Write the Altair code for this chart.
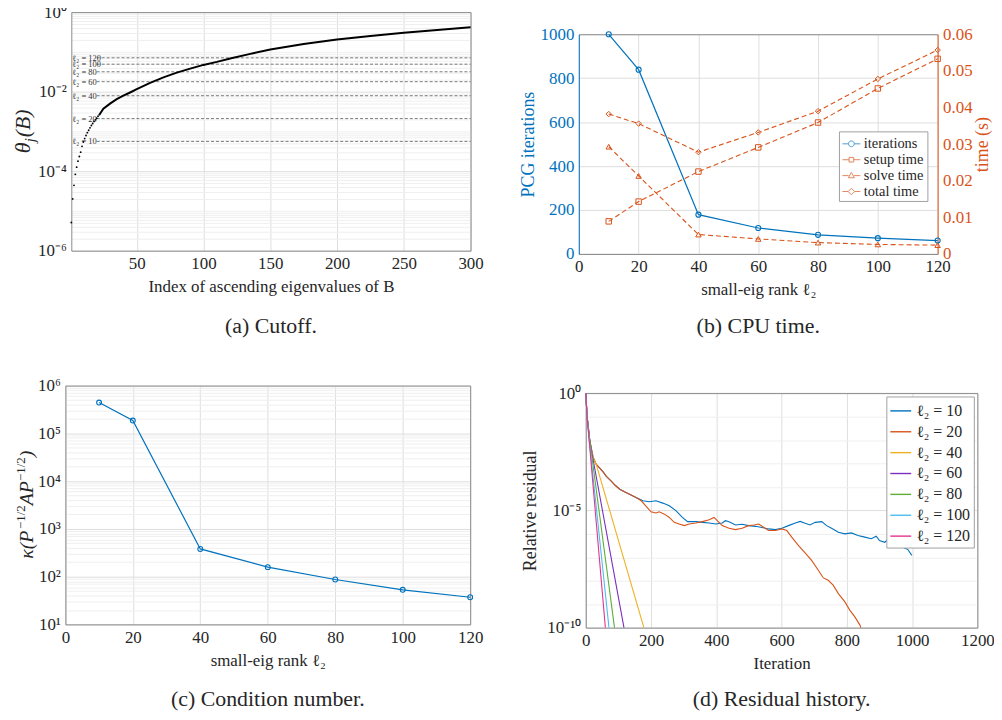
import altair as alt
import pandas as pd

# ======================= data =======================
# (a) Cutoff: ascending eigenvalues theta_j(B)
eig_dot_index = [1, 2, 3, 4, 5, 6, 7, 8, 9, 10, 11, 12, 13, 14, 15, 16, 17, 18, 19, 20, 21, 22]
eig_dot_value = [5.1e-6, 2.0e-5, 4.4e-5, 8.3e-5, 1.26e-4, 1.78e-4, 2.34e-4, 3.0e-4, 4.2e-4, 5.4e-4,
                 6.6e-4, 7.9e-4, 9.3e-4, 1.07e-3, 1.23e-3, 1.41e-3, 1.58e-3, 1.78e-3, 1.95e-3, 2.14e-3,
                 2.40e-3, 2.63e-3]
eig_line_index = [22, 25, 30, 35, 40, 45, 50, 60, 70, 80, 90, 100, 110, 120, 135, 150, 175, 200, 225,
                  250, 275, 300]
eig_line_value = [2.63e-3, 3.7e-3, 5.0e-3, 6.5e-3, 7.9e-3, 9.5e-3, 1.15e-2, 1.66e-2, 2.29e-2, 3.0e-2,
                  3.8e-2, 4.7e-2, 5.6e-2, 6.8e-2, 8.9e-2, 0.115, 0.158, 0.204, 0.251, 0.302, 0.355, 0.417]
cutoff_rank = [10, 20, 40, 60, 80, 100, 120]
cutoff_value = [5.6e-4, 2.1e-3, 7.9e-3, 1.78e-2, 3.16e-2, 4.9e-2, 7.1e-2]

# (b) CPU time
rank = [10, 20, 40, 60, 80, 100, 120]
pcg_iterations = [1000, 839, 179, 118, 87, 72, 61]
setup_time = [0.0089, 0.0143, 0.0225, 0.0291, 0.0359, 0.0452, 0.0533]
solve_time = [0.0293, 0.0213, 0.0053, 0.0041, 0.0031, 0.0026, 0.0024]
total_time = [0.0382, 0.0356, 0.0278, 0.0332, 0.0390, 0.0478, 0.0557]

# (c) Condition number
cond_number = [4.4e5, 1.85e5, 380, 158, 87, 53, 37]

# (d) Residual history: iteration and log10(relative residual)
res10_iter = [0, 4, 12, 22, 32, 43, 53, 63, 78, 90, 104, 120, 134, 154, 175, 195, 215, 236, 256, 276,
              296, 312, 337, 357, 378, 398, 418, 428, 439, 459, 479, 499, 520, 540, 560, 581, 601, 621,
              642, 657, 672, 687, 703, 723, 738, 753, 774, 794, 814, 834, 855, 875, 890, 900, 916, 926,
              936, 951, 961, 972, 987, 999]
res10_exp = [0, -1.0, -2.0, -2.72, -3.04, -3.2, -3.36, -3.55, -3.75, -3.93, -4.1, -4.22, -4.31, -4.45,
             -4.59, -4.63, -4.59, -4.69, -4.80, -5.01, -5.30, -5.48, -5.48, -5.51, -5.54, -5.58, -5.54,
             -5.44, -5.48, -5.62, -5.59, -5.65, -5.68, -5.73, -5.79, -5.82, -5.76, -5.65, -5.54, -5.47,
             -5.55, -5.62, -5.51, -5.48, -5.65, -5.76, -5.93, -6.0, -5.96, -6.07, -6.14, -6.21, -6.1,
             -6.29, -6.36, -6.24, -6.5, -6.43, -6.36, -6.57, -6.67, -6.92]
res20_iter = [0, 4, 12, 22, 32, 43, 53, 63, 78, 90, 104, 120, 134, 154, 170, 185, 200, 215, 225, 241,
              256, 271, 286, 302, 317, 337, 357, 378, 393, 403, 418, 439, 459, 479, 499, 515, 530, 545,
              560, 581, 601, 616, 631, 652, 672, 692, 713, 728, 743, 758, 774, 794, 809, 824, 840, 843]
res20_exp = [0, -1.0, -2.0, -2.72, -3.04, -3.2, -3.36, -3.55, -3.75, -3.93, -4.1, -4.22, -4.31, -4.45,
             -4.59, -4.83, -5.06, -5.11, -5.06, -5.16, -5.30, -5.51, -5.58, -5.65, -5.58, -5.54, -5.48,
             -5.40, -5.30, -5.44, -5.65, -5.76, -5.82, -5.76, -5.65, -5.62, -5.58, -5.72, -5.86, -5.86,
             -5.79, -5.86, -6.14, -6.5, -6.81, -7.13, -7.56, -7.88, -7.98, -8.19, -8.55, -8.9, -9.25,
             -9.53, -9.89, -10.0]
res40_iter = [0, 4, 12, 22, 32, 178]
res40_exp = [0, -1.0, -2.0, -2.72, -3.04, -10.0]
res60_iter = [0, 4, 12, 20, 117]
res60_exp = [0, -1.0, -2.0, -2.65, -10.0]
res80_iter = [0, 4, 12, 88]
res80_exp = [0, -1.0, -2.0, -10.0]
res100_iter = [0, 4, 10, 71]
res100_exp = [0, -1.0, -1.95, -10.0]
res120_iter = [0, 4, 60]
res120_exp = [0, -1.0, -10.0]
res_labels = ["ℓ₂ = 10", "ℓ₂ = 20", "ℓ₂ = 40", "ℓ₂ = 60", "ℓ₂ = 80", "ℓ₂ = 100", "ℓ₂ = 120"]
res_colors = ["#0072BD", "#D95319", "#EDB120", "#7B2FBE", "#5DAE3A", "#4DBEEE", "#E3348E"]

# ======================= style / layout =======================
SERIF = "Liberation Serif"
TXT = "#262626"
GRID = "#dedede"
MINOR = "#efefef"
BOX = "#8a8a8a"
BLUE = "#0072BD"
ORANGE = "#D95319"

W, H = 992, 704
M = 8


def c(v):
    return v - M


PA = dict(l=c(71.7), r=c(473.4), t=c(10), b=c(250))
PB = dict(l=c(582.3), r=c(943.3), t=c(32.3), b=c(253.3))
PC = dict(l=c(65.7), r=c(473.0), t=c(385.7), b=c(626.0))
PD = dict(l=c(589.3), r=c(983.3), t=c(393.3), b=c(629.3))


def xscale(p, dom, typ="linear"):
    return alt.Scale(type=typ, domain=dom, range=[p["l"], p["r"]], nice=False)


def yscale(p, dom, typ="linear"):
    return alt.Scale(type=typ, domain=dom, range=[p["b"], p["t"]], nice=False)


SUP = str.maketrans("0123456789-", "⁰¹²³⁴⁵⁶⁷⁸⁹⁻")


def pow_expr(exps):
    parts = []
    for i, e in enumerate(exps[:-1]):
        mid = 10 ** ((e + exps[i + 1]) / 2)
        parts.append(f"datum.value < {mid!r} ? '10{str(e).translate(SUP)}' : ")
    return "".join(parts) + f"'10{str(exps[-1]).translate(SUP)}'"


def ax_bottom(p, values, title, **kw):
    return alt.Axis(orient="bottom", offset=p["b"] - H, values=values, grid=False, title=title, **kw)


def ax_left(p, values, title=None, **kw):
    return alt.Axis(orient="left", offset=-p["l"], values=values, grid=True, title=title, **kw)


def ax_top_grid(p, values, **kw):
    return alt.Axis(orient="top", offset=-p["t"], values=values, grid=True, labels=False,
                    ticks=False, domain=True, title=None, **kw)


def ax_right_box(p):
    return alt.Axis(orient="right", offset=p["r"] - W, labels=False, ticks=False, grid=False,
                    domain=True, title=None)


def ax_left_minor(p, values):
    return alt.Axis(orient="left", offset=-p["l"], values=values, labels=False, ticks=False,
                    domain=False, grid=True, gridColor=MINOR, title=None)


one = pd.DataFrame({"k": [0]})


def note(text, x, y, size, angle=0, align="center", baseline="middle", color=TXT, italic=False):
    props = dict(text=text, fontSize=size, align=align, baseline=baseline, color=color, font=SERIF)
    if angle:
        props["angle"] = angle
    if italic:
        props["fontStyle"] = "italic"
    return alt.Chart(one).mark_text(**props).encode(x=alt.value(x), y=alt.value(y))


def vtitle(pieces, x0, y_start):
    out = []
    y = y_start
    for text, size, shift, width, italic in pieces:
        out.append(note(text, x0 + shift, y, size, angle=270, align="left",
                        baseline="alphabetic", italic=italic))
        y -= width
    return out


layers = []

# ======================= panel (a) =======================
xsA = xscale(PA, [1, 300])
ysA = yscale(PA, [1e-6, 1], "log")
dfA_dots = pd.DataFrame({"j": eig_dot_index, "v": eig_dot_value})
dfA_line = pd.DataFrame({"j": eig_line_index, "v": eig_line_value})
dfA_cut = pd.DataFrame({"rank": cutoff_rank, "v": cutoff_value,
                        "lab": [f"ℓ₂ = {r}" for r in cutoff_rank]})
minorA = [k * 10.0 ** e for e in range(-6, 0) for k in range(2, 10)] + \
         [10.0 ** e for e in (-5, -3, -1)]
xtA = [50, 100, 150, 200, 250, 300]

layers.append(alt.Chart(dfA_cut).mark_rule(color="#5a5a5a", strokeDash=[3, 2], strokeWidth=0.8).encode(
    x=alt.XDatum(20, type="quantitative", scale=xsA, axis=None),
    x2=alt.X2Datum(300),
    y=alt.Y("v:Q", scale=ysA, axis=ax_left_minor(PA, minorA)),
))
layers.append(alt.Chart(dfA_cut).mark_text(align="left", baseline="middle", fontSize=8.5, font=SERIF,
                                           color="#333333", dx=1).encode(
    x=alt.XDatum(1, type="quantitative", scale=xsA, axis=None),
    y=alt.Y("v:Q", scale=ysA, axis=None),
    text="lab:N",
))
layers.append(alt.Chart(dfA_line).mark_line(color="black", strokeWidth=2).encode(
    x=alt.X("j:Q", scale=xsA, axis=ax_top_grid(PA, xtA)),
    y=alt.Y("v:Q", scale=ysA, axis=ax_right_box(PA)),
))
layers.append(alt.Chart(dfA_dots).mark_circle(size=3.5, color="black", opacity=1).encode(
    x=alt.X("j:Q", scale=xsA, axis=ax_bottom(PA, xtA, "Index of ascending eigenvalues of B")),
    y=alt.Y("v:Q", scale=ysA, axis=ax_left(PA, [1e-6, 1e-4, 1e-2, 1], labelExpr=pow_expr([-6, -4, -2, 0]))),
))
layers += vtitle([("θ", 22, 0, 11, True), ("j", 15, 5, 5, True), ("(B)", 22, 0, 28, True)],
                 c(30), c(152))
layers.append(note("(a) Cutoff.", (PA["l"] + PA["r"]) / 2, c(326), 22))

# ======================= panel (b) =======================
xsB = xscale(PB, [0, 120])
ysB_it = yscale(PB, [0, 1000])
ysB_t = yscale(PB, [0, 0.06])
xtB = [0, 20, 40, 60, 80, 100, 120]
midB = (PB["t"] + PB["b"]) / 2
dfB_it = pd.DataFrame({"rank": rank, "it": pcg_iterations})
b_series = ["setup time", "solve time", "total time"]
dfB_t = pd.concat([
    pd.DataFrame({"rank": rank, "t": setup_time, "series": "setup time"}),
    pd.DataFrame({"rank": rank, "t": solve_time, "series": "solve time"}),
    pd.DataFrame({"rank": rank, "t": total_time, "series": "total time"}),
])

layers.append(alt.Chart(dfB_it).mark_line(color=BLUE, strokeWidth=1.2).encode(
    x=alt.X("rank:Q", scale=xsB, axis=ax_bottom(PB, xtB, "small-eig rank ℓ₂")),
    y=alt.Y("it:Q", scale=ysB_it, axis=ax_left(PB, [0, 200, 400, 600, 800, 1000], title="PCG iterations",
                                              labelColor=BLUE, titleColor=BLUE, domainColor=BLUE,
                                              format="d", titleX=-50.5, titleY=midB, titleAngle=270,
                                              titleAlign="center", titleBaseline="middle",
                                              titleFontSize=18)),
))
layers.append(alt.Chart(dfB_it).mark_point(shape="circle", filled=False, color=BLUE, size=26,
                                           strokeWidth=1.1, opacity=1).encode(
    x=alt.X("rank:Q", scale=xsB, axis=ax_top_grid(PB, xtB)),
    y=alt.Y("it:Q", scale=ysB_it, axis=None),
))
layers.append(alt.Chart(dfB_t).mark_line(color=ORANGE, strokeDash=[5, 3], strokeWidth=1.1).encode(
    x=alt.X("rank:Q", scale=xsB, axis=None),
    y=alt.Y("t:Q", scale=ysB_t,
            axis=alt.Axis(orient="right", offset=PB["r"] - W, values=[0, 0.01, 0.02, 0.03, 0.04, 0.05, 0.06],
                          format="~g", grid=False, title="time (s)", titleAngle=270, labelColor=ORANGE,
                          titleColor=ORANGE, domainColor=ORANGE, titleX=45, titleY=midB,
                          titleAlign="center", titleBaseline="middle", titleFontSize=18)),
    detail="series:N",
))
layers.append(alt.Chart(dfB_t).mark_point(filled=False, color=ORANGE, size=30, strokeWidth=1.0,
                                          opacity=1).encode(
    x=alt.X("rank:Q", scale=xsB, axis=None),
    y=alt.Y("t:Q", scale=ysB_t, axis=None),
    shape=alt.Shape("series:N", scale=alt.Scale(domain=b_series, range=["square", "triangle-up", "diamond"]),
                    legend=None),
))
leg_names = ["iterations", "setup time", "solve time", "total time"]
leg_paths = [
    "M-1,0L-0.32,0M0.32,0L1,0M0.32,0A0.32,0.32,0,1,1,-0.32,0A0.32,0.32,0,1,1,0.32,0Z",
    "M-1,0L-0.26,0M0.26,0L1,0M-0.26,-0.26L0.26,-0.26L0.26,0.26L-0.26,0.26Z",
    "M-1,0L-0.3,0M0.3,0L1,0M0,-0.36L0.34,0.24L-0.34,0.24Z",
    "M-1,0L-0.36,0M0.36,0L1,0M0,-0.36L0.36,0L0,0.36L-0.36,0Z",
]
legB = alt.Legend(orient="none", legendX=c(844), legendY=c(130), title=None, padding=3,
                  fillColor="white", strokeColor="#a0a0a0", labelFont=SERIF, labelFontSize=14.5,
                  labelColor=TXT, symbolSize=324, symbolStrokeWidth=1, rowPadding=0, labelOffset=3)
layers.append(alt.Chart(pd.DataFrame({"series": leg_names})).mark_point(filled=False, strokeWidth=1).encode(
    x=alt.value(-80), y=alt.value(-80),
    color=alt.Color("series:N", scale=alt.Scale(domain=leg_names, range=[BLUE, ORANGE, ORANGE, ORANGE]),
                    legend=legB),
    shape=alt.Shape("series:N", scale=alt.Scale(domain=leg_names, range=leg_paths), legend=legB),
))
layers.append(note("(b) CPU time.", (PB["l"] + PB["r"]) / 2, c(326), 22))

# ======================= panel (c) =======================
xsC = xscale(PC, [0, 120])
ysC = yscale(PC, [10, 1e6], "log")
dfC = pd.DataFrame({"rank": rank, "k": cond_number})
minorC = [k * 10.0 ** e for e in range(1, 6) for k in range(2, 10)]

layers.append(alt.Chart(dfC).mark_line(color=BLUE, strokeWidth=1.2).encode(
    x=alt.X("rank:Q", scale=xsC, axis=ax_bottom(PC, xtB, "small-eig rank ℓ₂")),
    y=alt.Y("k:Q", scale=ysC, axis=ax_left(PC, [10, 1e2, 1e3, 1e4, 1e5, 1e6],
                                          labelExpr=pow_expr([1, 2, 3, 4, 5, 6]))),
))
layers.append(alt.Chart(dfC).mark_point(shape="circle", filled=False, color=BLUE, size=24,
                                        strokeWidth=1.1, opacity=1).encode(
    x=alt.X("rank:Q", scale=xsC, axis=ax_top_grid(PC, xtB)),
    y=alt.Y("k:Q", scale=ysC, axis=ax_right_box(PC)),
))
layers.append(alt.Chart(dfC).mark_point(opacity=0).encode(
    x=alt.X("rank:Q", scale=xsC, axis=None),
    y=alt.Y("k:Q", scale=ysC, axis=ax_left_minor(PC, minorC)),
))
layers += vtitle([("κ(P", 20, 0, 29.9, True), ("−1/2", 13, -8, 23.9, False), ("AP", 20, 0, 24.4, True),
                  ("−1/2", 13, -8, 23.9, False), (")", 20, 0, 7, True)], c(33), c(560))
layers.append(note("(c) Condition number.", (PC["l"] + PC["r"]) / 2, c(701), 22))

# ======================= panel (d) =======================
xsD = xscale(PD, [0, 1200])
ysD = yscale(PD, [1e-10, 1], "log")
res_iters = [res10_iter, res20_iter, res40_iter, res60_iter, res80_iter, res100_iter, res120_iter]
res_exps = [res10_exp, res20_exp, res40_exp, res60_exp, res80_exp, res100_exp, res120_exp]
dfD = pd.concat([
    pd.DataFrame({"iter": it, "res": [10.0 ** e for e in ex], "series": lab})
    for lab, it, ex in zip(res_labels, res_iters, res_exps)
])
minorD = [10.0 ** e for e in range(-9, 0) if e != -5]
xtD = [0, 200, 400, 600, 800, 1000, 1200]
midD = (PD["t"] + PD["b"]) / 2
legD = alt.Legend(orient="none", legendX=c(891.7), legendY=c(396.7), title=None, padding=3,
                  fillColor="white", strokeColor="#a0a0a0", labelFont=SERIF, labelFontSize=16,
                  labelColor=TXT, symbolType="stroke", symbolSize=441, symbolStrokeWidth=1.4,
                  rowPadding=1, labelOffset=4)

layers.append(alt.Chart(dfD.iloc[:1]).mark_point(opacity=0).encode(
    x=alt.X("iter:Q", scale=xsD, axis=ax_top_grid(PD, xtD)),
    y=alt.Y("res:Q", scale=ysD, axis=ax_right_box(PD)),
))
layers.append(alt.Chart(dfD.iloc[:1]).mark_point(opacity=0).encode(
    x=alt.X("iter:Q", scale=xsD, axis=None),
    y=alt.Y("res:Q", scale=ysD, axis=ax_left_minor(PD, minorD)),
))
layers.append(alt.Chart(dfD).mark_line(strokeWidth=1.1).encode(
    x=alt.X("iter:Q", scale=xsD, axis=ax_bottom(PD, xtD, "Iteration", format="d")),
    y=alt.Y("res:Q", scale=ysD, axis=ax_left(PD, [1e-10, 1e-5, 1], title="Relative residual",
                                            labelExpr=pow_expr([-10, -5, 0]), titleX=-56, titleY=midD,
                                            titleAngle=270, titleAlign="center", titleBaseline="middle",
                                            titleFontSize=18)),
    color=alt.Color("series:N", scale=alt.Scale(domain=res_labels, range=res_colors), legend=legD),
))
layers.append(note("(d) Residual history.", (PD["l"] + PD["r"]) / 2, c(701), 22))

chart = alt.layer(*layers).resolve_scale(
    x="independent", y="independent", color="independent", shape="independent"
).resolve_axis(x="independent", y="independent").properties(
    width=W, height=H, padding=0, autosize=alt.AutoSizeParams(type="none")
).configure_view(stroke=None).configure_axis(
    labelFont=SERIF, labelFontSize=17, labelColor=TXT, titleFont=SERIF, titleFontSize=17,
    titleFontWeight="normal", titleColor=TXT, domainColor=BOX, domainWidth=1, ticks=False,
    grid=False, gridColor=GRID, gridWidth=1, labelFlush=False, labelOverlap=False,
    labelPadding=5, titlePadding=7,
)

chart.save("out.html", embed_options={"renderer": "svg", "actions": False})
